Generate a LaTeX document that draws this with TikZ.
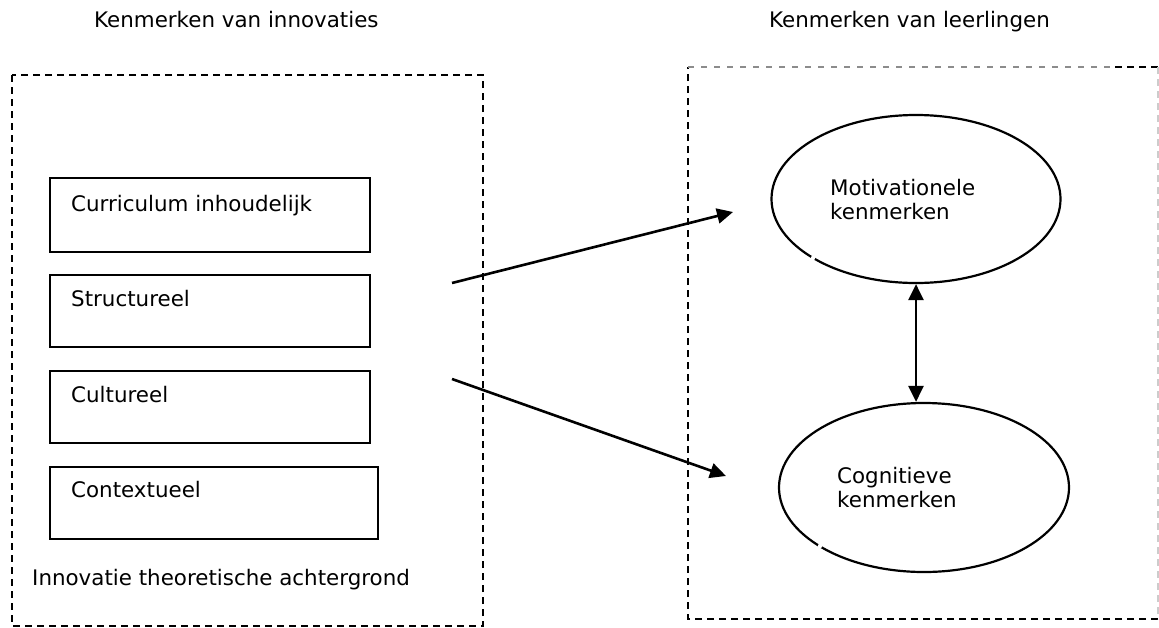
\documentclass[tikz,border=0pt]{standalone}
\usepackage{fontspec}
\setmainfont{DejaVu Sans}
\usetikzlibrary{arrows.meta,shapes.geometric}
\tikzset{
  txt/.style={inner sep=0pt, anchor=base west, font=\fontsize{21.4}{24}\selectfont},
  mtxt/.style={txt, align=left},
  itembox/.style={draw, line width=2.3pt, rectangle, inner sep=0pt, anchor=north west},
  oval/.style={draw, line width=2.2pt, ellipse, inner sep=0pt},
  framedash/.style={line width=1.7pt, dash pattern=on 7pt off 5pt},
  conn/.style={line width=2.6pt, -{Triangle[length=16pt,width=15pt]}},
  biconn/.style={line width=2.6pt, {Triangle[length=16pt,width=15pt]}-{Triangle[length=16pt,width=15pt]}}
}
\begin{document}
\begin{tikzpicture}[x=1pt,y=-1pt]
\useasboundingbox (0,0) rectangle (1159,627);
% headings
\node[txt] (hl) at (94,27) {Kenmerken van innovaties};
\node[txt] (hr) at (769,27) {Kenmerken van leerlingen};
% left frame
\draw[framedash] (12,75) rectangle (483,626);
% right frame
\draw[framedash] (1158,619) -- (688,619) -- (688,67);
\draw[framedash, line width=1.2pt, black!45, dash pattern=on 6pt off 7pt] (688,67) -- (1112,67);
\draw[framedash] (1115,67) -- (1158,67);
\draw[framedash, line width=1.2pt, black!20] (1158,67) -- (1158,619);
% boxes
\node[itembox, minimum width=320pt, minimum height=74pt] (b1) at (49,177) {};
\node[itembox, minimum width=320pt, minimum height=72pt] (b2) at (49,274) {};
\node[itembox, minimum width=320pt, minimum height=72pt] (b3) at (49,370) {};
\node[itembox, minimum width=328pt, minimum height=72pt] (b4) at (49,466) {};
\node[txt] (b1t) at (71,211) {Curriculum inhoudelijk};
\node[txt] (b2t) at (71,306) {Structureel};
\node[txt] (b3t) at (71,402) {Cultureel};
\node[txt] (b4t) at (71,497) {Contextueel};
\node[txt] (lt) at (32,585) {Innovatie theoretische achtergrond};
% ellipses
\node[oval, minimum width=289pt, minimum height=168pt] (e1) at (916,199) {};
\node[oval, minimum width=290pt, minimum height=169pt] (e2) at (924,487.5) {};
\node[mtxt] (e1t) at (830,219) {Motivationele\\kenmerken};
\node[mtxt] (e2t) at (837,507) {Cognitieve\\kenmerken};
\fill[white] (813,258) circle (2.2pt);
\fill[white] (820,546) circle (2.2pt);
% connectors
\coordinate (s1) at (452,283);
\coordinate (s2) at (452,379);
\coordinate (t1) at (733,212);
\coordinate (t2) at (726,476);
\draw[conn] (s1) -- (t1);
\draw[conn] (s2) -- (t2);
\draw[biconn] (e1.south) -- (e1.south |- e2.north);
\end{tikzpicture}
\end{document}
